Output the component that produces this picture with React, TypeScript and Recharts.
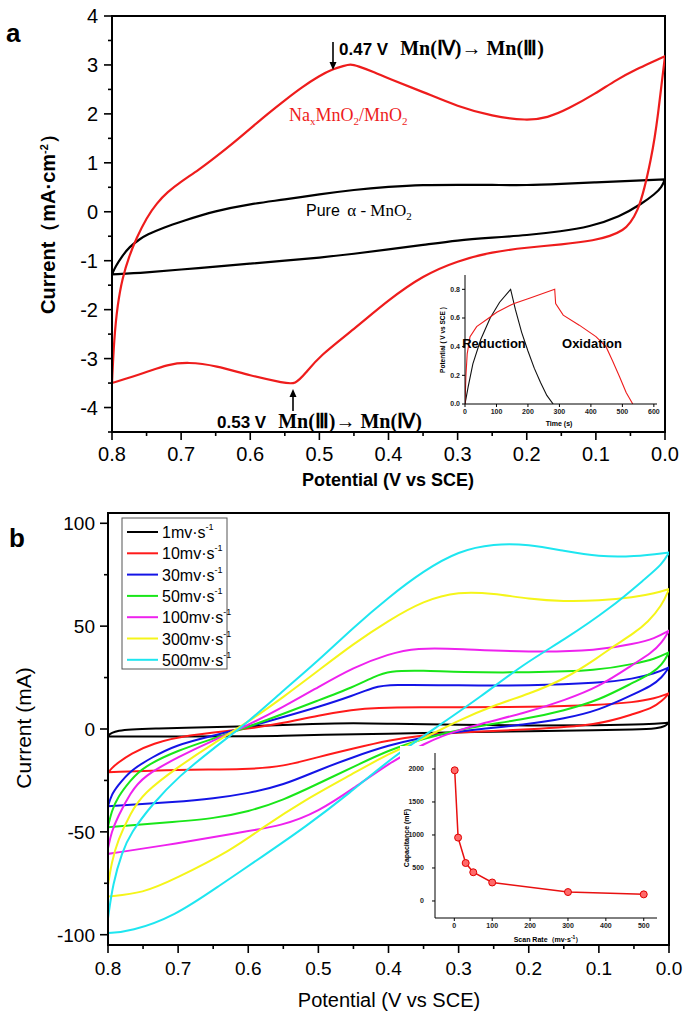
import React from "react";
import { LineChart, Line, XAxis, YAxis, ReferenceArea } from "recharts";

type Pt = [number, number];

const SANS = "'Liberation Sans', Arial, sans-serif";
const SERIF = "'Liberation Serif', 'Times New Roman', serif";

// ---- panel a: CV, potential (V vs SCE) vs current density (mA/cm2)
const NAMNO2_UP: Pt[] = [
  [0.8, -3.5], [0.797, -2.6], [0.792, -1.9], [0.785, -1.35], [0.775, -0.9], [0.765, -0.55],
  [0.75, -0.12], [0.735, 0.18], [0.72, 0.4], [0.7, 0.62], [0.675, 0.85], [0.65, 1.12],
  [0.625, 1.4], [0.6, 1.7], [0.575, 2.0], [0.55, 2.28], [0.525, 2.55], [0.5, 2.78],
  [0.48, 2.92], [0.465, 2.98], [0.455, 3.02], [0.445, 2.98], [0.42, 2.85], [0.4, 2.72],
  [0.35, 2.45], [0.3, 2.15], [0.25, 1.95], [0.2, 1.86], [0.17, 1.92], [0.14, 2.1],
  [0.1, 2.42], [0.07, 2.7], [0.04, 2.92], [0.02, 3.05], [0, 3.18],
];
const NAMNO2_DN: Pt[] = [
  [0, 3.18], [0.005, 2.6], [0.01, 2.0], [0.015, 1.5], [0.02, 1.1], [0.03, 0.45], [0.04, 0.0],
  [0.05, -0.22], [0.06, -0.38], [0.08, -0.5], [0.1, -0.58], [0.15, -0.67], [0.2, -0.73],
  [0.25, -0.82], [0.3, -1.0], [0.35, -1.3], [0.4, -1.8], [0.45, -2.4], [0.5, -2.95],
  [0.52, -3.3], [0.535, -3.53], [0.55, -3.5], [0.6, -3.35], [0.65, -3.14], [0.69, -3.07],
  [0.72, -3.12], [0.75, -3.28], [0.8, -3.5],
];
const PURE_UP: Pt[] = [
  [0.8, -1.28], [0.795, -1.12], [0.785, -0.9], [0.775, -0.72], [0.76, -0.56], [0.75, -0.47],
  [0.725, -0.32], [0.7, -0.2], [0.65, 0.02], [0.6, 0.16], [0.55, 0.25], [0.5, 0.36],
  [0.45, 0.45], [0.4, 0.51], [0.35, 0.55], [0.3, 0.55], [0.25, 0.55], [0.2, 0.54],
  [0.15, 0.57], [0.1, 0.6], [0.05, 0.63], [0, 0.66],
];
const PURE_DN: Pt[] = [
  [0, 0.66], [0.005, 0.5], [0.014, 0.37], [0.033, 0.17], [0.065, -0.1], [0.11, -0.31],
  [0.15, -0.4], [0.2, -0.48], [0.25, -0.53], [0.3, -0.58], [0.35, -0.68], [0.4, -0.77],
  [0.45, -0.86], [0.5, -0.94], [0.55, -1.0], [0.6, -1.06], [0.65, -1.12], [0.7, -1.18],
  [0.75, -1.24], [0.8, -1.28],
];

// inset a: charge/discharge, time (s) vs potential
const GCD_PURE: Pt[] = [
  [0, 0], [10, 0.12], [25, 0.28], [50, 0.45], [80, 0.6], [110, 0.71], [145, 0.8],
  [160, 0.66], [180, 0.5], [200, 0.37], [220, 0.25], [240, 0.15], [260, 0.06], [280, 0],
];
const GCD_NAMNO2: Pt[] = [
  [0, 0], [3, 0.2], [7, 0.35], [16, 0.47], [37, 0.54], [69, 0.59], [101, 0.64], [154, 0.7],
  [207, 0.74], [285, 0.8], [288, 0.7], [312, 0.62], [363, 0.55], [416, 0.47], [448, 0.4],
  [469, 0.3], [491, 0.19], [512, 0.08], [533, 0],
];

// ---- panel b: CV at different scan rates, current (mA)
const B1_UP: Pt[] = [[0.8, -3.2], [0.795, -1.8], [0.785, -0.8], [0.77, -0.2], [0.73, 0.3], [0.7, 0.5], [0.6, 1.3], [0.5, 2.6], [0.45, 2.9], [0.4, 2.6], [0.3, 2.0], [0.2, 1.6], [0.1, 1.8], [0.03, 2.3], [0, 3.1]];
const B1_DN: Pt[] = [[0, 3.1], [0.005, 1.5], [0.015, 0.3], [0.05, -0.3], [0.1, -0.6], [0.2, -1.1], [0.3, -1.6], [0.4, -2.3], [0.5, -2.8], [0.55, -3.4], [0.6, -3.6], [0.7, -3.6], [0.8, -3.6]];
const B10_UP: Pt[] = [[0.8, -21.5], [0.795, -19], [0.786, -16.5], [0.768, -12], [0.736, -7], [0.69, -3], [0.6, 0], [0.55, 2.9], [0.5, 6.6], [0.45, 9.4], [0.42, 10.4], [0.35, 10.6], [0.3, 10.5], [0.2, 10.7], [0.1, 11.6], [0.05, 13], [0.02, 14.8], [0, 17.4]];
const B10_DN: Pt[] = [[0, 17.4], [0.01, 13.5], [0.025, 10], [0.05, 7.4], [0.1, 1.8], [0.2, -0.3], [0.3, -1.5], [0.35, -3], [0.4, -5.5], [0.45, -9.5], [0.5, -13.6], [0.55, -18.2], [0.6, -19.7], [0.7, -19.7], [0.8, -21]];
const B30_UP: Pt[] = [[0.8, -37.5], [0.795, -32], [0.787, -28], [0.768, -20], [0.736, -13.6], [0.705, -8], [0.65, -3.2], [0.6, 1], [0.55, 5.8], [0.5, 10.7], [0.45, 16.3], [0.42, 20.4], [0.4, 21.6], [0.3, 21.2], [0.2, 21], [0.1, 22.3], [0.05, 24.4], [0.02, 27], [0, 30]];
const B30_DN: Pt[] = [[0, 30], [0.01, 25], [0.025, 21], [0.05, 17], [0.1, 9], [0.15, 5], [0.2, 2.3], [0.3, -1], [0.35, -3.9], [0.4, -7.9], [0.45, -13.6], [0.5, -20], [0.55, -27.3], [0.6, -31.3], [0.65, -33.8], [0.7, -35.4], [0.8, -37.5]];
const B50_UP: Pt[] = [[0.8, -47.5], [0.795, -40], [0.786, -33], [0.768, -25], [0.75, -18.4], [0.7, -10.3], [0.65, -4.7], [0.6, 1], [0.55, 7.4], [0.5, 13.9], [0.45, 20.4], [0.42, 25.5], [0.4, 28.3], [0.35, 28.5], [0.3, 27.6], [0.2, 27.4], [0.1, 28.4], [0.05, 31.7], [0.02, 34], [0, 37.3]];
const B50_DN: Pt[] = [[0, 37.3], [0.01, 31], [0.025, 27], [0.05, 22.8], [0.1, 13.9], [0.15, 9], [0.2, 5], [0.3, 0], [0.35, -4.7], [0.4, -10.3], [0.45, -18.4], [0.5, -26.5], [0.55, -34.6], [0.6, -40.2], [0.65, -43.5], [0.7, -45], [0.8, -47.8]];
const B100_UP: Pt[] = [[0.8, -58], [0.795, -50], [0.786, -42.6], [0.768, -31], [0.75, -23], [0.7, -13.6], [0.65, -5.5], [0.6, 1.8], [0.55, 10.7], [0.5, 20.4], [0.45, 30], [0.4, 36.5], [0.36, 39.5], [0.3, 39], [0.2, 37.3], [0.1, 38.1], [0.05, 41.4], [0.02, 44], [0, 47.8]];
const B100_DN: Pt[] = [[0, 47.8], [0.01, 42], [0.025, 37], [0.05, 31.7], [0.1, 20.4], [0.15, 13.9], [0.2, 8.2], [0.3, 0], [0.35, -7.1], [0.4, -16.8], [0.45, -28.9], [0.5, -40.2], [0.55, -47], [0.62, -50.7], [0.7, -55.6], [0.8, -60.7]];
const B300_UP: Pt[] = [[0.8, -76], [0.795, -65], [0.786, -54], [0.768, -41], [0.75, -31.3], [0.7, -18.4], [0.65, -7.1], [0.6, 3.4], [0.55, 15.5], [0.5, 28.4], [0.45, 41.4], [0.4, 52.7], [0.35, 62.4], [0.3, 66.9], [0.25, 65.9], [0.2, 63.2], [0.15, 62], [0.1, 62.4], [0.05, 64], [0.02, 66], [0, 68]];
const B300_DN: Pt[] = [[0, 68], [0.01, 60], [0.03, 52], [0.05, 46.5], [0.08, 40], [0.1, 35], [0.15, 24], [0.2, 17], [0.25, 11.5], [0.3, 4.2], [0.35, -4.7], [0.4, -12], [0.45, -21.6], [0.52, -34.6], [0.58, -48], [0.624, -59], [0.705, -73], [0.75, -79.8], [0.8, -81.4]];
const B500_UP: Pt[] = [[0.8, -92], [0.793, -75], [0.78, -60], [0.768, -50.7], [0.736, -36.2], [0.7, -23.3], [0.65, -9.5], [0.6, 3.4], [0.55, 18.7], [0.5, 33.3], [0.45, 49.4], [0.4, 64], [0.35, 76.9], [0.3, 86.6], [0.25, 90.1], [0.2, 89.8], [0.15, 86.6], [0.1, 83.7], [0.05, 83.7], [0, 85.8]];
const B500_DN: Pt[] = [[0, 85.8], [0.01, 80], [0.032, 73.7], [0.082, 59], [0.151, 43], [0.207, 31.7], [0.269, 15.5], [0.331, 1], [0.394, -13.6], [0.456, -31.3], [0.518, -47.5], [0.58, -62], [0.643, -76.6], [0.705, -91], [0.768, -98.5], [0.8, -99.2]];

const RATE_LABELS = ["1", "10", "30", "50", "100", "300", "500"];
const RATE_COLORS = ["#000000", "#ff1a1a", "#1414e6", "#19e619", "#ee22ee", "#f5f51a", "#1ee6f0"];
const RATE_LOOPS: [Pt[], Pt[]][] = [
  [B1_UP, B1_DN], [B10_UP, B10_DN], [B30_UP, B30_DN], [B50_UP, B50_DN],
  [B100_UP, B100_DN], [B300_UP, B300_DN], [B500_UP, B500_DN],
];

// inset b: capacitance vs scan rate
const SCAN_RATE = [1, 10, 30, 50, 100, 300, 500];
const CAPACITANCE = [1980, 960, 575, 435, 280, 135, 100];

const A_X_TICKS = [0.8, 0.75, 0.7, 0.65, 0.6, 0.55, 0.5, 0.45, 0.4, 0.35, 0.3, 0.25, 0.2, 0.15, 0.1, 0.05, 0];
const A_Y_TICKS = [-4.5, -4, -3.5, -3, -2.5, -2, -1.5, -1, -0.5, 0, 0.5, 1, 1.5, 2, 2.5, 3, 3.5, 4];
const B_Y_TICKS = [-100, -75, -50, -25, 0, 25, 50, 75, 100];
const INSET_A_X = [0, 100, 200, 300, 400, 500, 600];
const INSET_A_Y = [0, 0.2, 0.4, 0.6, 0.8];
const INSET_B_X = [0, 100, 200, 300, 400, 500];
const INSET_B_Y = [0, 500, 1000, 1500, 2000];

// closed CV loop; corner points tripled so the basis curve keeps sharp turns
const triple = (p: Pt): Pt[] => [p, p, p];
function cvLoop(up: Pt[], dn: Pt[]) {
  const pts: Pt[] = [
    ...triple(up[0]), ...up.slice(1, -1), ...triple(up[up.length - 1]),
    ...dn.slice(1, -1), ...triple(dn[dn.length - 1]), ...triple(up[0]),
  ];
  return pts.map(([v, i]) => ({ v, i }));
}
const toRows = (pts: Pt[]) => pts.map(([v, i]) => ({ v, i }));

const near = (a: number, step: number) => Math.abs(a / step - Math.round(a / step)) < 1e-6;

function makeTick(side: "left" | "bottom", step: number, fmt: (v: number) => string, size: number, weight: string, gap: number) {
  return (p: any) => {
    const v = p.payload.value as number;
    const major = near(v, step);
    const len = major ? 8 : 4;
    if (side === "left") {
      return (
        <g>
          <line x1={p.x} y1={p.y} x2={p.x - len} y2={p.y} stroke="#000" strokeWidth={1.6} />
          {major && (
            <text x={p.x - gap} y={p.y} dy="0.36em" textAnchor="end" fontSize={size} fontWeight={weight} fontFamily={SANS} fill="#000">
              {fmt(v)}
            </text>
          )}
        </g>
      );
    }
    return (
      <g>
        <line x1={p.x} y1={p.y} x2={p.x} y2={p.y + len} stroke="#000" strokeWidth={1.6} />
        {major && (
          <text x={p.x} y={p.y + gap} textAnchor="middle" fontSize={size} fontWeight={weight} fontFamily={SANS} fill="#000">
            {fmt(v)}
          </text>
        )}
      </g>
    );
  };
}

const smallTick = { fontSize: 7, fontWeight: "bold", fontFamily: SANS, fill: "#222" } as any;

function Arrow({ x, y1, y2 }: { x: number; y1: number; y2: number }) {
  const dir = y2 > y1 ? 1 : -1;
  return (
    <g>
      <line x1={x} y1={y1} x2={x} y2={y2 - dir * 6} stroke="#000" strokeWidth={1.6} />
      <polygon points={`${x - 3.5},${y2 - dir * 8} ${x + 3.5},${y2 - dir * 8} ${x},${y2}`} fill="#000" />
    </g>
  );
}

function PanelA() {
  return (
    <div style={{ position: "absolute", left: 0, top: 0 }}>
      <LineChart width={685} height={480} margin={{ top: 16, right: 20, bottom: 0, left: 0 }}>
        <XAxis dataKey="v" type="number" domain={[0, 0.8]} reversed allowDataOverflow ticks={A_X_TICKS} interval={0}
          height={48} tickSize={0} tickMargin={0} tickLine={false} axisLine={{ stroke: "#000", strokeWidth: 2 }}
          tick={makeTick("bottom", 0.1, (v) => v.toFixed(1), 20, "normal", 29)} />
        <YAxis type="number" domain={[-4.5, 4]} allowDataOverflow ticks={A_Y_TICKS} interval={0}
          width={112} tickSize={0} tickMargin={0} tickLine={false} axisLine={{ stroke: "#000", strokeWidth: 2 }}
          tick={makeTick("left", 1, (v) => String(v), 20, "normal", 14)} />
        <ReferenceArea x1={0} x2={0.8} y1={-4.5} y2={4} fill="none" stroke="#000" strokeWidth={2} ifOverflow="visible" />
        <Line data={cvLoop(PURE_UP, PURE_DN)} dataKey="i" type="basis" stroke="#000" strokeWidth={2.2} dot={false} isAnimationActive={false} />
        <Line data={cvLoop(NAMNO2_UP, NAMNO2_DN)} dataKey="i" type="basis" stroke="#ee1c1c" strokeWidth={2.2} dot={false} isAnimationActive={false} />
      </LineChart>
    </div>
  );
}

function InsetA() {
  return (
    <div style={{ position: "absolute", left: 420, top: 265 }}>
      <LineChart width={245} height={175} margin={{ top: 10, right: 8, bottom: 0, left: 0 }}>
        <XAxis dataKey="v" type="number" domain={[0, 610]} allowDataOverflow ticks={INSET_A_X} interval={0} height={36}
          tickSize={3} tickMargin={2} tick={smallTick} stroke="#000" />
        <YAxis type="number" domain={[0, 0.9]} allowDataOverflow ticks={INSET_A_Y} interval={0} width={45}
          tickSize={3} tickMargin={2} tick={smallTick} tickFormatter={(v: number) => v.toFixed(1)} stroke="#000" />
        <Line data={toRows(GCD_PURE)} dataKey="i" type="linear" stroke="#111" strokeWidth={1.1} dot={false} isAnimationActive={false} />
        <Line data={toRows(GCD_NAMNO2)} dataKey="i" type="linear" stroke="#ee1c1c" strokeWidth={1.1} dot={false} isAnimationActive={false} />
      </LineChart>
    </div>
  );
}

function PanelB() {
  return (
    <div style={{ position: "absolute", left: 0, top: 490 }}>
      <LineChart width={685} height={528} margin={{ top: 23, right: 16, bottom: 0, left: 0 }}>
        <XAxis dataKey="v" type="number" domain={[0, 0.8]} reversed allowDataOverflow ticks={A_X_TICKS} interval={0}
          height={73} tickSize={0} tickMargin={0} tickLine={false} axisLine={{ stroke: "#000", strokeWidth: 2 }}
          tick={makeTick("bottom", 0.1, (v) => v.toFixed(1), 19, "normal", 30)} />
        <YAxis type="number" domain={[-105, 105]} allowDataOverflow ticks={B_Y_TICKS} interval={0}
          width={108} tickSize={0} tickMargin={0} tickLine={false} axisLine={{ stroke: "#000", strokeWidth: 2 }}
          tick={makeTick("left", 50, (v) => String(v), 19, "normal", 13)} />
        <ReferenceArea x1={0} x2={0.8} y1={-105} y2={105} fill="none" stroke="#000" strokeWidth={2} ifOverflow="visible" />
        {RATE_LOOPS.map(([up, dn], k) => (
          <Line key={RATE_LABELS[k]} data={cvLoop(up, dn)} dataKey="i" type="basis" stroke={RATE_COLORS[k]}
            strokeWidth={2} dot={false} isAnimationActive={false} />
        ))}
      </LineChart>
    </div>
  );
}

function InsetB() {
  const rows = SCAN_RATE.map((r, k) => ({ v: r, i: CAPACITANCE[k] }));
  return (
    <div style={{ position: "absolute", left: 400, top: 746, background: "#fff" }}>
      <LineChart width={264} height={198} margin={{ top: 7, right: 7, bottom: 0, left: 0 }}>
        <XAxis dataKey="v" type="number" domain={[-51, 535]} allowDataOverflow ticks={INSET_B_X} interval={0} height={26}
          tickSize={3} tickMargin={2} tick={smallTick} stroke="#000" />
        <YAxis type="number" domain={[-258, 2242]} allowDataOverflow ticks={INSET_B_Y} interval={0} width={35}
          tickSize={3} tickMargin={8} tick={smallTick} stroke="#000" />
        <Line data={rows} dataKey="i" type="linear" stroke="#e81010" strokeWidth={1.5}
          dot={{ r: 3.5, fill: "#ff6a6a", stroke: "#e00000", strokeWidth: 1 }} isAnimationActive={false} />
      </LineChart>
    </div>
  );
}

function Overlay() {
  return (
    <svg width={685} height={1018} style={{ position: "absolute", left: 0, top: 0, pointerEvents: "none" }}>
      {/* panel letters */}
      <text x={6} y={42} fontSize={26} fontWeight="bold" fontFamily={SANS}>a</text>
      <text x={9} y={547} fontSize={26} fontWeight="bold" fontFamily={SANS}>b</text>

      {/* panel a titles */}
      <text transform="translate(55,219) rotate(-90)" textAnchor="middle" fontSize={20} fontWeight="bold" fontFamily={SANS}>
        Current（mA·cm<tspan dy={-7} fontSize={11}>-2</tspan><tspan dy={7}>）</tspan>
      </text>
      <text x={388} y={486} textAnchor="middle" fontSize={18} fontWeight="bold" fontFamily={SANS}>Potential (V vs SCE)</text>

      {/* panel a annotations */}
      <Arrow x={333} y1={42} y2={70} />
      <text x={339} y={55} fontWeight="bold">
        <tspan fontFamily={SANS} fontSize={17}>0.47 V</tspan>
        <tspan fontFamily={SERIF} fontSize={20} dx={12}>Mn(Ⅳ)→ Mn(Ⅲ)</tspan>
      </text>
      <Arrow x={293} y1={411} y2={389} />
      <text x={217} y={428} fontWeight="bold">
        <tspan fontFamily={SANS} fontSize={17}>0.53 V</tspan>
        <tspan fontFamily={SERIF} fontSize={20} dx={12}>Mn(Ⅲ)→ Mn(Ⅳ)</tspan>
      </text>
      <text x={289} y={121} fontFamily={SERIF} fontSize={18} fill="#ee1c1c">
        Na<tspan dy={4} fontSize={11}>x</tspan><tspan dy={-4}>MnO</tspan><tspan dy={4} fontSize={11}>2</tspan>
        <tspan dy={-4}>/MnO</tspan><tspan dy={4} fontSize={11}>2</tspan>
      </text>
      <text x={306} y={216} fontSize={16}>
        <tspan fontFamily={SANS}>Pure </tspan><tspan fontFamily={SERIF} fontSize={17} dx={3}>α - MnO</tspan>
        <tspan fontFamily={SERIF} dy={4} fontSize={11}>2</tspan>
      </text>

      {/* inset a text */}
      <text x={494} y={348} textAnchor="middle" fontSize={13} fontWeight="bold" fontFamily={SANS}>Reduction</text>
      <text x={592} y={348} textAnchor="middle" fontSize={13} fontWeight="bold" fontFamily={SANS}>Oxidation</text>
      <text transform="translate(445,340) rotate(-90)" textAnchor="middle" fontSize={6.5} fontWeight="bold" fontFamily={SANS}>Potential ( V vs SCE )</text>
      <text x={559} y={426} textAnchor="middle" fontSize={7} fontWeight="bold" fontFamily={SANS}>Time (s)</text>

      {/* panel b titles */}
      <text transform="translate(31,728) rotate(-90)" textAnchor="middle" fontSize={21} fontFamily={SANS}>Current (mA)</text>
      <text x={389} y={1007} textAnchor="middle" fontSize={20} fontFamily={SANS}>Potential (V vs SCE)</text>

      {/* inset b text */}
      <text transform="translate(409,838) rotate(-90)" textAnchor="middle" fontSize={7} fontWeight="bold" fontFamily={SANS}>Capacitance (mF)</text>
      <text x={548} y={942} textAnchor="middle" fontSize={7} fontWeight="bold" fontFamily={SANS}>
        Scan Rate（mv·s<tspan dy={-3} fontSize={5}>-1</tspan><tspan dy={3}>）</tspan>
      </text>

      {/* panel b legend */}
      <rect x={122} y={518} width={105} height={151} fill="#fff" stroke="#555" strokeWidth={1} />
      {RATE_LABELS.map((lab, k) => {
        const y = 532 + k * 21.3;
        return (
          <g key={lab}>
            <line x1={127} x2={158} y1={y} y2={y} stroke={RATE_COLORS[k]} strokeWidth={2} />
            <text x={162} y={y + 6} fontSize={16} fontFamily={SANS}>
              {lab}mv·s<tspan dy={-8} fontSize={9}>-1</tspan>
            </text>
          </g>
        );
      })}
    </svg>
  );
}

export default function App() {
  return (
    <div style={{ position: "absolute", left: 0, top: 0, width: 685, height: 1018, background: "#fff" }}>
      <PanelA />
      <InsetA />
      <PanelB />
      <InsetB />
      <Overlay />
    </div>
  );
}
